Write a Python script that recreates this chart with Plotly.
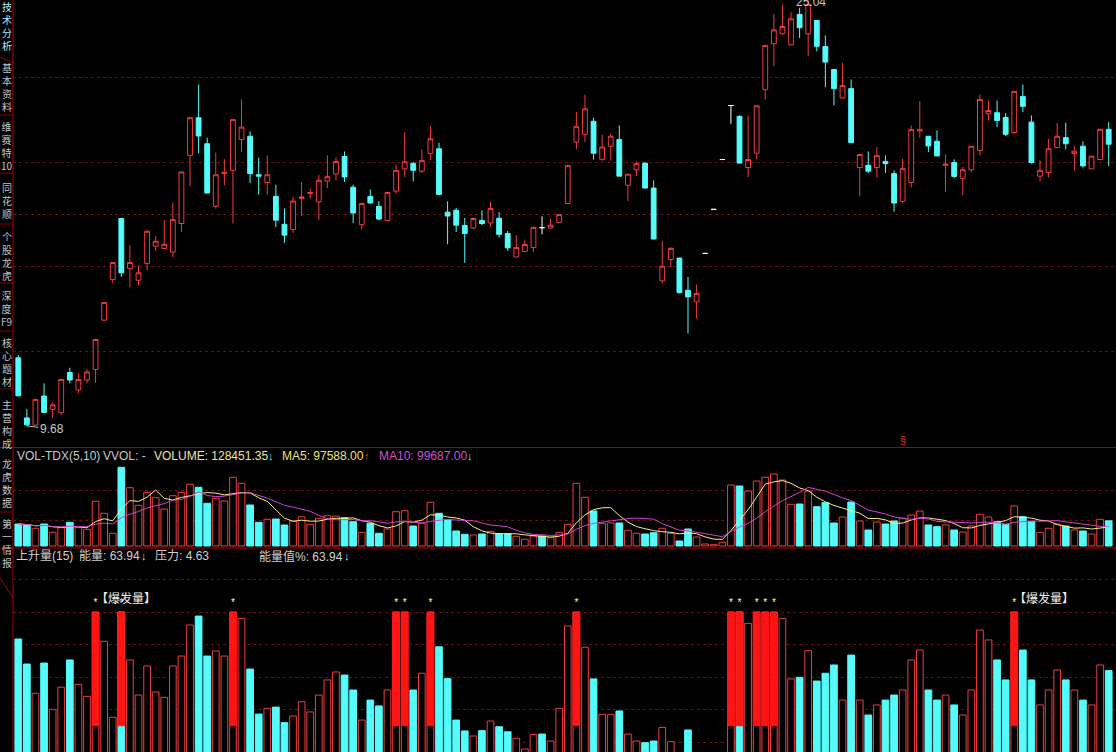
import plotly.graph_objects as go
import pandas as pd

W, H = 1116, 752

# ---------------- data ----------------
open_p = [12.14, 9.97, 9.71, 10.76, 10.28, 10.16, 11.61, 10.98, 11.34, 11.72,
          13.50, 14.97, 17.17, 15.37, 14.94, 15.55, 16.17, 16.09, 15.96, 16.99,
          19.45, 20.81, 19.87, 17.61, 18.79, 18.91, 20.02, 20.14, 18.75, 18.47,
          17.97, 16.96, 16.77, 17.89, 18.07, 17.77, 18.52, 18.78, 19.41, 18.30,
          16.95, 17.97, 17.61, 17.10, 18.16, 18.96, 19.16, 18.88, 19.51, 19.69,
          17.40, 17.47, 16.92, 16.83, 17.10, 17.01, 17.18, 16.63, 15.78, 15.98,
          16.12, 16.84, 16.83, 17.02, 17.71, 19.93, 20.21, 20.68, 19.31, 19.78,
          20.02, 18.37, 18.93, 19.17, 18.27, 14.92, 15.69, 15.74, 14.58, 14.16,
          15.91, 17.50, 19.30, 21.25, 20.86, 19.01, 19.53, 21.82, 23.48, 23.84,
          23.44, 24.54, 23.84, 24.32, 23.38, 22.55, 21.52, 21.86, 19.01, 19.09,
          19.01, 19.23, 18.79, 17.79, 18.47, 20.33, 20.14, 19.96, 19.09, 19.19,
          18.61, 18.93, 19.63, 20.95, 20.99, 20.82, 20.27, 21.58, 20.65, 18.70,
          18.83, 19.73, 20.09, 19.51, 19.78, 18.96, 19.30, 20.39]
high_p = [12.24, 10.29, 10.66, 11.22, 10.54, 11.38, 11.78, 11.59, 11.73, 12.83,
          14.15, 15.60, 17.18, 16.21, 15.48, 16.75, 16.54, 17.11, 17.75, 18.87,
          20.82, 22.01, 20.09, 19.55, 19.31, 20.75, 21.47, 20.32, 19.37, 19.45,
          18.39, 17.53, 17.95, 18.49, 18.25, 18.75, 19.45, 19.37, 19.59, 18.39,
          17.72, 18.22, 17.80, 18.12, 19.12, 20.29, 19.22, 19.67, 20.51, 19.91,
          17.79, 17.55, 17.19, 17.20, 17.47, 17.77, 17.41, 16.72, 16.57, 16.41,
          16.87, 17.25, 17.17, 17.32, 19.09, 21.01, 21.64, 20.81, 20.20, 20.23,
          20.53, 18.78, 19.23, 19.19, 18.55, 16.36, 16.14, 15.75, 15.06, 14.79,
          15.91, 17.50, 19.30, 21.25, 20.89, 20.89, 21.25, 23.44, 24.56, 24.90,
          24.62, 24.78, 25.04, 24.34, 23.78, 22.57, 22.79, 22.19, 19.49, 19.59,
          19.75, 19.45, 18.91, 19.33, 20.53, 21.41, 20.15, 20.35, 19.49, 19.31,
          19.03, 19.79, 21.65, 21.43, 21.43, 20.98, 21.78, 22.01, 20.89, 19.27,
          20.05, 20.62, 20.63, 19.78, 19.96, 19.43, 20.41, 20.65]
low_p = [10.74, 9.68, 9.70, 10.15, 9.97, 10.08, 11.22, 10.87, 11.23, 11.24,
         13.49, 14.83, 15.06, 14.68, 14.76, 15.30, 16.00, 16.08, 15.78, 16.68,
         18.33, 19.53, 18.08, 17.53, 18.37, 16.99, 19.57, 18.45, 18.03, 18.03,
         16.86, 16.29, 16.65, 17.25, 17.89, 17.11, 18.27, 18.55, 18.49, 17.01,
         16.78, 17.71, 17.11, 17.07, 18.07, 18.67, 18.51, 18.81, 19.27, 18.03,
         16.24, 16.68, 15.57, 16.78, 16.93, 16.86, 16.48, 16.00, 15.77, 15.97,
         15.96, 16.60, 16.82, 17.01, 17.70, 19.67, 19.93, 19.30, 19.25, 19.27,
         18.69, 17.80, 18.70, 18.26, 16.42, 14.82, 15.42, 14.47, 13.02, 13.56,
         15.91, 17.50, 19.30, 20.59, 19.16, 18.67, 19.31, 21.46, 22.67, 23.80,
         23.42, 23.69, 23.03, 23.21, 21.91, 21.25, 21.50, 19.89, 17.97, 18.81,
         18.65, 18.81, 17.41, 17.73, 18.29, 20.09, 19.57, 19.42, 18.13, 18.63,
         18.01, 18.85, 19.45, 20.71, 20.47, 20.15, 20.21, 21.01, 19.15, 18.51,
         18.65, 19.72, 19.67, 18.91, 19.01, 18.95, 19.29, 19.07]
close_p = [10.77, 9.72, 10.64, 10.17, 10.44, 11.36, 11.34, 11.36, 11.63, 12.80,
           14.14, 15.58, 15.21, 15.58, 15.21, 16.71, 16.35, 16.24, 17.13, 18.85,
           20.81, 20.15, 18.09, 18.75, 18.84, 20.74, 20.47, 18.79, 18.70, 18.75,
           17.11, 16.57, 17.80, 17.95, 18.11, 18.55, 18.68, 19.23, 18.67, 17.37,
           17.71, 17.73, 17.15, 18.11, 18.91, 19.22, 18.91, 19.26, 20.05, 18.04,
           17.26, 16.93, 16.63, 17.17, 16.99, 17.53, 16.60, 16.11, 16.12, 16.23,
           16.85, 16.84, 16.93, 17.31, 19.08, 20.50, 21.13, 19.53, 19.75, 20.14,
           18.70, 18.77, 19.15, 18.27, 16.43, 15.45, 16.09, 14.49, 14.34, 14.46,
           15.91, 17.50, 19.30, 21.25, 19.17, 19.30, 21.24, 23.42, 23.98, 24.10,
           24.38, 24.06, 24.90, 23.39, 22.82, 21.86, 21.97, 19.91, 19.48, 18.88,
           19.44, 19.15, 17.73, 18.97, 20.38, 20.39, 19.79, 19.43, 19.13, 18.69,
           18.93, 19.78, 21.47, 21.07, 20.71, 20.21, 21.76, 21.22, 19.19, 18.91,
           19.69, 20.14, 19.87, 19.60, 19.07, 19.42, 20.39, 19.85]
volume = [112200, 107100, 90270, 112200, 69870, 93330, 120870, 95370, 85170, 227970,
          166770, 64770, 401370, 297330, 207570, 273870, 246330, 188700, 256530, 273870,
          314670, 299370, 217770, 243270, 229500, 350370, 319770, 209100, 120870, 136170,
          137700, 107100, 127500, 149430, 110670, 141270, 154530, 153000, 144330, 123930,
          69870, 115770, 64770, 86700, 174930, 180030, 102000, 115770, 222870, 166770,
          132600, 76500, 59670, 56100, 61200, 74970, 62730, 62730, 49470, 34170,
          51000, 51000, 42330, 69870, 110670, 319770, 248370, 178500, 115770, 117300,
          117300, 80070, 64770, 61200, 67830, 90270, 64770, 25500, 86700, 45900,
          10200, 6630, 18870, 311100, 306000, 280500, 331500, 350370, 367200, 336600,
          212670, 214200, 280500, 200430, 220830, 117300, 147900, 224400, 127500, 81600,
          122400, 112200, 127500, 141270, 158100, 178500, 107100, 98430, 107100, 81600,
          71400, 102000, 161670, 147900, 123930, 110670, 204000, 149430, 123930, 69870,
          90270, 112200, 102000, 81600, 76500, 61200, 136170, 128451.35]
energy = [83.4, 68.0, 50.0, 68.6, 40.1, 53.7, 70.5, 55.5, 48.1, 100,
          82.0, 35.2, 100, 70.5, 48.9, 66.8, 50.8, 47.5, 66.8, 72.9,
          92.0, 97.5, 72.9, 76.0, 72.9, 100, 96.1, 64.9, 37.2, 40.7,
          41.5, 31.9, 36.0, 44.8, 38.5, 48.9, 58.2, 63.1, 61.2, 52.0,
          33.5, 45.8, 42.2, 52.0, 100, 100, 52.0, 62.3, 100, 78.6,
          59.0, 33.5, 26.8, 23.7, 27.0, 32.9, 29.4, 26.3, 22.3, 15.7,
          24.7, 24.9, 20.6, 40.7, 91.4, 100, 78.3, 58.8, 37.0, 37.0,
          39.1, 24.9, 20.6, 19.6, 20.6, 29.0, 20.2, 10.0, 27.4, 12.0,
          8.0, 8.0, 10.0, 100, 100, 93.0, 100, 100, 100, 96.1,
          58.8, 59.8, 76.2, 57.5, 62.3, 67.4, 45.8, 73.5, 45.8, 36.6,
          42.8, 45.8, 48.9, 52.0, 70.5, 76.6, 52.0, 45.8, 48.9, 42.8,
          36.6, 52.0, 88.9, 82.8, 70.5, 58.2, 100, 76.6, 58.2, 42.8,
          52.0, 64.3, 58.2, 52.0, 45.8, 42.8, 67.4, 63.94]
burst_days = [10, 13, 26, 45, 46, 49, 66, 84, 85, 87, 88, 89, 117]
burst_label_days = [10, 117]
burst_low, burst_high = 30, 100
low_day, high_day = 2, 93
mark_day = 104

price_grid = [12.38, 15.45, 17.32, 19.20, 22.26]
vol_grid = [132600, 285600]
energy_grid = [20, 40, 60, 80, 100, 120]

vol_title = [("VOL-TDX(5,10)", "#c8c8c8"), ("VVOL: -", "#c8c8c8"),
             ("VOLUME: 128451.35", "#e8e8a0"), ("↓", "#54fcfc"),
             ("MA5: 97588.00", "#f0e070"), ("↑", "#ff3c3c"),
             ("MA10: 99687.00", "#d050d0"), ("↓", "#54fcfc")]
energy_title = [("上升量(15)", "#d0d0d0"), ("能量: 63.94", "#d0d0d0"), ("↓", "#54fcfc"),
                ("压力: 4.63", "#d0d0d0"), ("能量值%: 63.94", "#d0d0d0"), ("↓", "#54fcfc")]
sidebar_tabs = ["技术分析", "基本资料", "维赛特10", "同花顺", "个股龙虎", "深度F9",
                "核心题材", "主营构成", "龙虎数据", "第一情报"]

# ---------------- style / layout positions ----------------
RED = "#f03c3c"
RED_FILL = "#ff1414"
CYAN = "#54fcfc"
GRID = "#7a0808"
BORDER = "#b00000"
BG = "#000000"
FONT = "Liberation Sans, Noto Sans CJK SC, sans-serif"
CJK = "Noto Sans CJK SC, sans-serif"

vol_title_x = [15, 101, 152, 266, 280, 362, 377, 465]
energy_title_x = [14, 77, 139, 153, 257, 342]
tab_center_y = [26, 87, 146, 201, 256, 309, 362, 424, 483, 543]
tab_sep_y = [115, 173, 224, 283, 331, 389, 512]

n = len(open_p)
days = list(range(1, n + 1))
prev_close = [close_p[0]] + close_p[:-1]
is_up = [c > o or (c == o and c > pc) for o, c, pc in zip(open_p, close_p, prev_close)]

fig = go.Figure()


def candle(idx, color, fill):
    fig.add_trace(go.Candlestick(
        x=[days[i] for i in idx], open=[open_p[i] for i in idx],
        high=[high_p[i] for i in idx], low=[low_p[i] for i in idx],
        close=[close_p[i] for i in idx],
        increasing=dict(line=dict(color=color, width=1), fillcolor=fill),
        decreasing=dict(line=dict(color=color, width=1), fillcolor=fill),
        whiskerwidth=0, showlegend=False, hoverinfo="skip", xaxis="x", yaxis="y"))


candle([i for i in range(n) if close_p[i] > open_p[i]], RED, BG)
candle([i for i in range(n) if close_p[i] < open_p[i]], CYAN, CYAN)
candle([i for i in range(n) if close_p[i] == open_p[i]], "#ffffff", "#ffffff")

# volume panel
bar_fill = [BG if u else CYAN for u in is_up]
bar_line = [RED if u else CYAN for u in is_up]
fig.add_trace(go.Bar(x=days, y=volume, marker=dict(color=bar_fill, line=dict(color=bar_line, width=1)),
                     xaxis="x2", yaxis="y2", showlegend=False, hoverinfo="skip"))
vs = pd.Series(volume)
fig.add_trace(go.Scatter(x=days, y=vs.rolling(5, min_periods=1).mean(), mode="lines",
                         line=dict(color="#f8f080", width=1), xaxis="x2", yaxis="y2",
                         showlegend=False, hoverinfo="skip"))
fig.add_trace(go.Scatter(x=days, y=vs.rolling(10, min_periods=1).mean(), mode="lines",
                         line=dict(color="#d040d0", width=1), xaxis="x2", yaxis="y2",
                         showlegend=False, hoverinfo="skip"))

# energy panel
fig.add_trace(go.Bar(x=days, y=energy, marker=dict(color=bar_fill, line=dict(color=bar_line, width=1)),
                     xaxis="x3", yaxis="y3", showlegend=False, hoverinfo="skip"))
fig.add_trace(go.Bar(x=burst_days, y=[burst_high - burst_low] * len(burst_days),
                     base=[burst_low] * len(burst_days),
                     marker=dict(color=RED_FILL, line=dict(color=RED_FILL, width=1)),
                     xaxis="x3", yaxis="y3", showlegend=False, hoverinfo="skip"))
fig.add_trace(go.Scatter(x=burst_days, y=[burst_high + 5.5] * len(burst_days), mode="text",
                         text=["*"] * len(burst_days), textfont=dict(color="#ffff90", size=10, family=FONT),
                         xaxis="x3", yaxis="y3", showlegend=False, hoverinfo="skip", cliponaxis=False))

ax_common = dict(domain=[13 / W, 1], range=[0.383, 128.85], visible=False, showgrid=False, zeroline=False)
gridax = dict(showticklabels=False, ticks="", showgrid=True, gridcolor=GRID, griddash="dot",
              gridwidth=1, zeroline=False, showline=False)


def ydom(top_px, bot_px):
    return [1 - bot_px / H, 1 - top_px / H]


fig.update_layout(
    width=W, height=H, margin=dict(l=0, r=0, t=0, b=0),
    paper_bgcolor=BG, plot_bgcolor=BG, barmode="overlay", bargap=0.22, boxgap=0.2,
    xaxis=dict(ax_common, anchor="y", rangeslider=dict(visible=False)),
    xaxis2=dict(ax_common, anchor="y2", matches="x"),
    xaxis3=dict(ax_common, anchor="y3", matches="x"),
    yaxis=dict(gridax, domain=ydom(0, 447), range=[8.92, 25.06], tickvals=price_grid),
    yaxis2=dict(gridax, domain=ydom(448, 548), range=[-10200, 499800], tickvals=vol_grid),
    yaxis3=dict(gridax, domain=ydom(549, 752), range=[13.85, 138.77], tickvals=energy_grid),
    showlegend=False,
)

ann = []


def ptext(text, x_px, y_px, color, size=12, family=FONT, xanchor="left"):
    ann.append(dict(text=text, x=x_px / W, y=1 - y_px / H, xref="paper", yref="paper",
                    xanchor=xanchor, yanchor="middle", showarrow=False,
                    font=dict(color=color, size=size, family=family)))


for (t, c), x in zip(vol_title, vol_title_x):
    ptext(t, x, 456, c, size=12 if t not in ("↓", "↑") else 11)
for (t, c), x in zip(energy_title, energy_title_x):
    ptext(t, x, 556, c, size=12 if t != "↓" else 11)


def stack(label):
    parts, buf = [], ""
    for ch in label:
        if ch.isascii():
            buf += ch
        else:
            if buf:
                parts.append(buf)
                buf = ""
            parts.append(ch)
    if buf:
        parts.append(buf)
    return "<br>".join(parts)


for ti, (label, y) in enumerate(zip(sidebar_tabs, tab_center_y)):
    col = "#a8e8ff" if ti == 0 else "#c4c4c4"
    ptext(stack(label), 6.5, y, col, size=10, family=CJK, xanchor="center")

# price labels
ann.append(dict(text="9.68", x=low_day, y=low_p[low_day - 1], xref="x", yref="y", showarrow=True,
                arrowhead=0, arrowwidth=1, arrowcolor="#c0c0c0", ax=25, ay=3, xanchor="center",
                font=dict(color="#c8c8c8", size=12, family=FONT)))
ann.append(dict(text="25.04", x=high_day, y=high_p[high_day - 1], xref="x", yref="y", showarrow=False,
                xanchor="center", yanchor="middle", xshift=3, yshift=-1,
                font=dict(color="#c8c8c8", size=12, family=FONT)))
ann.append(dict(text="§", x=mark_day, y=9.18, xref="x", yref="y", showarrow=False,
                font=dict(color="#ff2020", size=11, family=FONT)))
for d in burst_label_days:
    ann.append(dict(text="【爆发量】", x=d, y=burst_high + 9, xref="x3", yref="y3", showarrow=False,
                    xanchor="left", yanchor="middle", xshift=-2,
                    font=dict(color="#f0f0f0", size=12, family=CJK)))
fig.update_layout(annotations=ann)

shapes = []


def pline(x0, y0, x1, y1, color=BORDER, width=1):
    shapes.append(dict(type="line", xref="paper", yref="paper", x0=x0 / W, y0=1 - y0 / H,
                       x1=x1 / W, y1=1 - y1 / H, line=dict(color=color, width=width)))


pline(13, 0, 13, H)
pline(0, 447.5, W, 447.5)
pline(0, 548, W, 548)
for y in tab_sep_y:
    pline(0, y, 13, y, color="#8a0000")
pline(0, 57, 13, 63, color="#a00000")
pline(0, 578, 13, 598, color="#a00000")
fig.update_layout(shapes=shapes)

fig.write_html("out.html", config={"displayModeBar": False},
               post_script="document.body.style.margin='0';document.body.style.overflow='hidden';")
